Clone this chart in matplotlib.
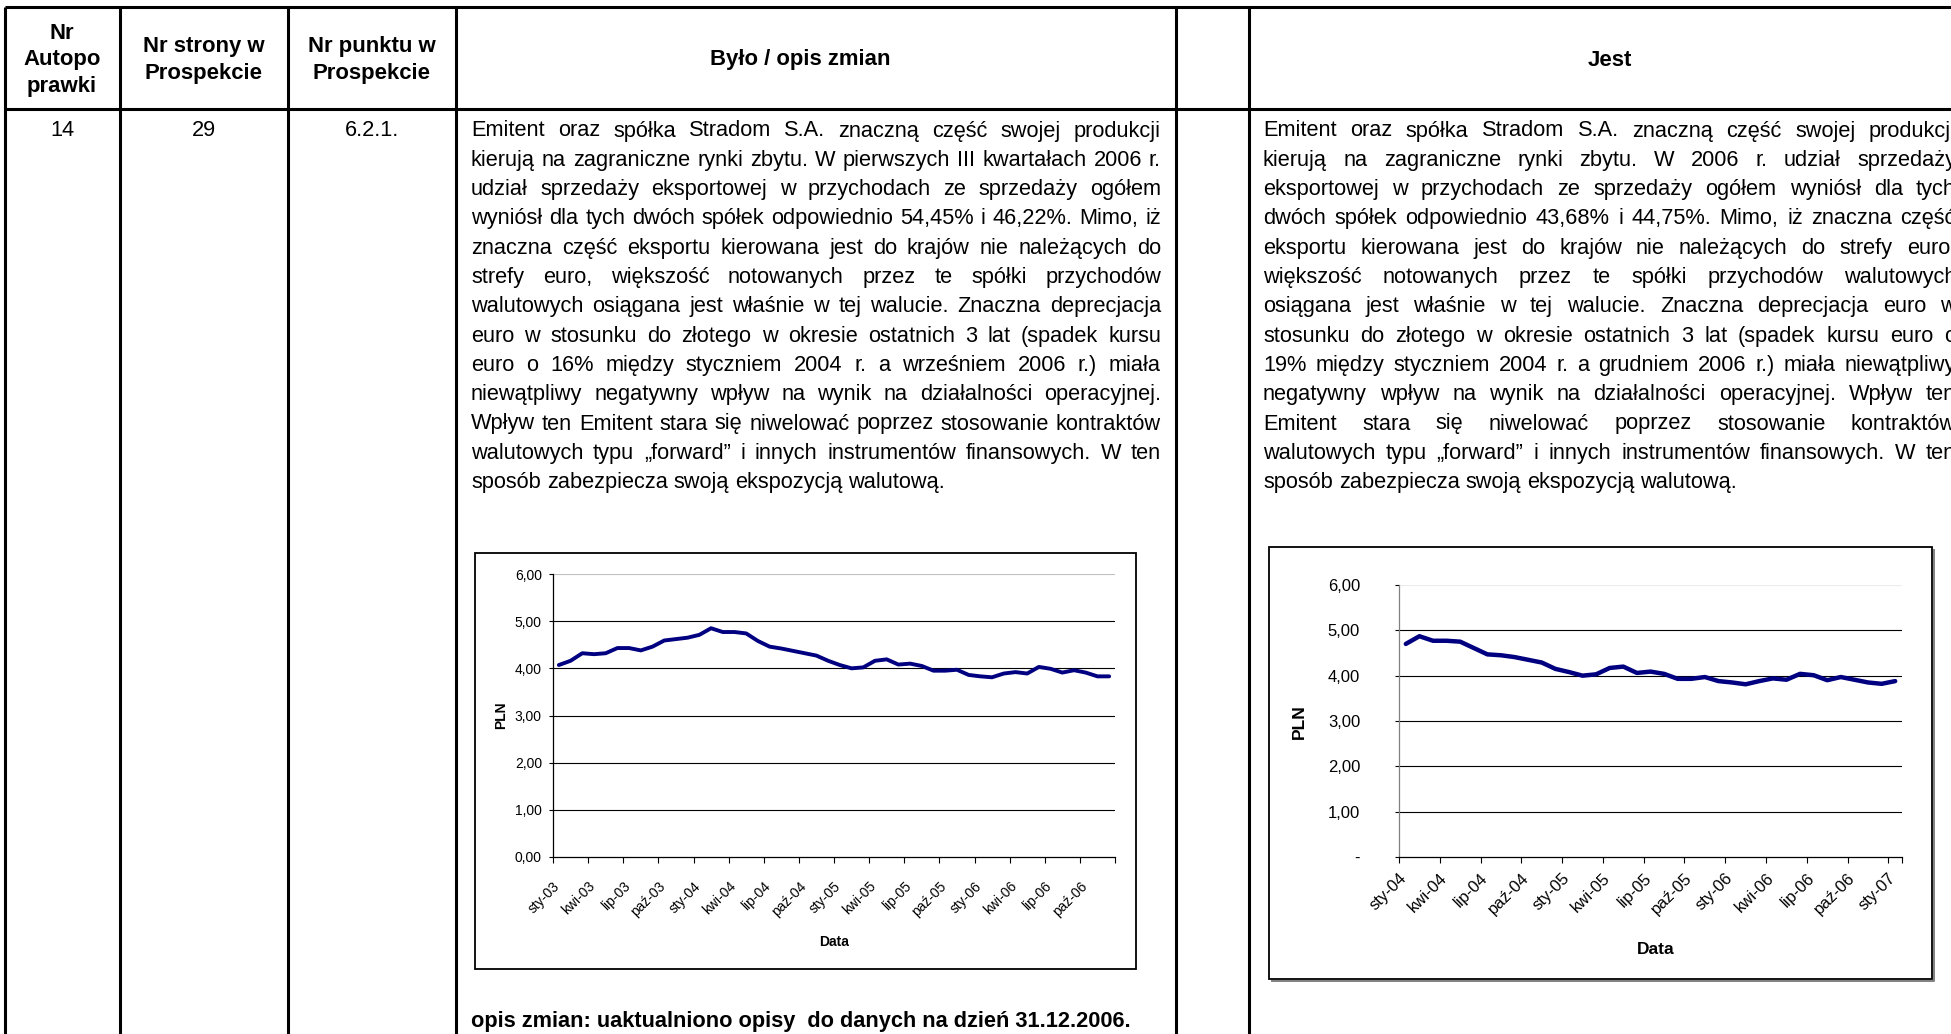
import matplotlib
matplotlib.use('Agg')
import matplotlib.pyplot as plt
from matplotlib.patches import Rectangle

W, H, DPI = 1951, 1034, 100

# EUR/PLN monthly rates
left_ticklabels = ['sty-03', 'kwi-03', 'lip-03', 'paź-03', 'sty-04', 'kwi-04', 'lip-04', 'paź-04',
                   'sty-05', 'kwi-05', 'lip-05', 'paź-05', 'sty-06', 'kwi-06', 'lip-06', 'paź-06']
left_values = [4.07, 4.16, 4.32, 4.30, 4.32, 4.43, 4.43, 4.38, 4.46, 4.59, 4.62, 4.65,
               4.71, 4.85, 4.77, 4.77, 4.74, 4.58, 4.46, 4.42, 4.37, 4.32, 4.27, 4.16,
               4.07, 4.00, 4.02, 4.16, 4.19, 4.08, 4.10, 4.05, 3.95, 3.95, 3.97, 3.86,
               3.83, 3.81, 3.89, 3.92, 3.89, 4.03, 3.99, 3.91, 3.96, 3.91, 3.83, 3.83]
left_yticklabels = ['0,00', '1,00', '2,00', '3,00', '4,00', '5,00', '6,00']

right_ticklabels = ['sty-04', 'kwi-04', 'lip-04', 'paź-04', 'sty-05', 'kwi-05', 'lip-05',
                    'paź-05', 'sty-06', 'kwi-06', 'lip-06', 'paź-06', 'sty-07']
right_values = [4.70, 4.87, 4.77, 4.77, 4.75, 4.61, 4.47, 4.45, 4.41, 4.35, 4.29, 4.15,
                4.08, 4.00, 4.03, 4.17, 4.20, 4.06, 4.09, 4.04, 3.93, 3.93, 3.97, 3.88,
                3.85, 3.81, 3.88, 3.94, 3.91, 4.04, 4.01, 3.90, 3.97, 3.91, 3.85, 3.82, 3.88]
right_yticklabels = ['-', '1,00', '2,00', '3,00', '4,00', '5,00', '6,00']

header_texts = ['Nr\nAutopo\nprawki', 'Nr strony w\nProspekcie', 'Nr punktu w\nProspekcie',
                'Było / opis zmian', 'Jest']
row_texts = ['14', '29', '6.2.1.']

old_lines = [
    'Emitent oraz spółka Stradom S.A. znaczną część swojej produkcji',
    'kierują na zagraniczne rynki zbytu. W pierwszych III kwartałach 2006 r.',
    'udział sprzedaży eksportowej w przychodach ze sprzedaży ogółem',
    'wyniósł dla tych dwóch spółek odpowiednio 54,45% i 46,22%. Mimo, iż',
    'znaczna część eksportu kierowana jest do krajów nie należących do',
    'strefy euro, większość notowanych przez te spółki przychodów',
    'walutowych osiągana jest właśnie w tej walucie. Znaczna deprecjacja',
    'euro w stosunku do złotego w okresie ostatnich 3 lat (spadek kursu',
    'euro o 16% między styczniem 2004 r. a wrześniem 2006 r.) miała',
    'niewątpliwy negatywny wpływ na wynik na działalności operacyjnej.',
    'Wpływ ten Emitent stara się niwelować poprzez stosowanie kontraktów',
    'walutowych typu „forward” i innych instrumentów finansowych. W ten',
    'sposób zabezpiecza swoją ekspozycją walutową.',
]
new_lines = [
    'Emitent oraz spółka Stradom S.A. znaczną część swojej produkcji',
    'kierują na zagraniczne rynki zbytu. W 2006 r. udział sprzedaży',
    'eksportowej w przychodach ze sprzedaży ogółem wyniósł dla tych',
    'dwóch spółek odpowiednio 43,68% i 44,75%. Mimo, iż znaczna część',
    'eksportu kierowana jest do krajów nie należących do strefy euro,',
    'większość notowanych przez te spółki przychodów walutowych',
    'osiągana jest właśnie w tej walucie. Znaczna deprecjacja euro w',
    'stosunku do złotego w okresie ostatnich 3 lat (spadek kursu euro o',
    '19% między styczniem 2004 r. a grudniem 2006 r.) miała niewątpliwy',
    'negatywny wpływ na wynik na działalności operacyjnej. Wpływ ten',
    'Emitent stara się niwelować poprzez stosowanie kontraktów',
    'walutowych typu „forward” i innych instrumentów finansowych. W ten',
    'sposób zabezpiecza swoją ekspozycją walutową.',
]
note_text = 'opis zmian: uaktualniono opisy  do danych na dzień 31.12.2006.'

plt.rcParams['font.family'] = ['Liberation Sans', 'DejaVu Sans']

fig = plt.figure(figsize=(W / DPI, H / DPI), dpi=DPI)
fig.patch.set_facecolor('white')
bg = fig.add_axes([0, 0, 1, 1])
bg.set_xlim(0, W)
bg.set_ylim(H, 0)
bg.axis('off')
renderer = fig.canvas.get_renderer()


def measure(s, size, weight='normal'):
    t = bg.text(0, 0, s, fontsize=size, fontweight=weight)
    w = t.get_window_extent(renderer).width
    t.remove()
    return w


# table grid
col_x = [5, 120, 288, 456, 1176, 1249]
top_y, head_y = 7, 109
bg.hlines([top_y, head_y], col_x[0], W, color='black', lw=2.2)
bg.vlines(col_x, top_y, H, color='black', lw=2.2)

# header
fs_head = 10 * 122 / measure('Nr strony w', 10, 'bold')
head_cx = [62, 204, 372, 800, 1610]
for cx, s in zip(head_cx, header_texts):
    bg.text(cx, 60, s, fontsize=fs_head, fontweight='bold', ha='center', va='center',
            linespacing=30 / (fs_head * DPI / 72))

# body text, justified word by word
fs_body = 10 * 684 / max(measure(l, 10) for l in old_lines + new_lines)
space_w = measure('a a', fs_body) - measure('aa', fs_body)
line0, lstep = 131, 29.3


def justified(x0, width, lines):
    for i, line in enumerate(lines):
        y = line0 + i * lstep
        words = line.split(' ')
        widths = [measure(w, fs_body) for w in words]
        last = i == len(lines) - 1
        gap = space_w if last else (width - sum(widths)) / (len(words) - 1)
        x = x0
        for w, wd in zip(words, widths):
            bg.text(x, y, w, fontsize=fs_body, ha='left', va='center')
            x += wd + gap


justified(471, 690, old_lines)
justified(1263, 693, new_lines)

for cx, s in zip(head_cx[:3], row_texts):
    bg.text(cx, line0, s, fontsize=fs_body, ha='center', va='center')

bg.text(471, 1021, note_text, fontsize=fs_body, fontweight='bold', ha='left', va='center')

# chart frames (right one with a soft shadow)
bg.add_patch(Rectangle((475, 553), 1136 - 475, 969 - 553, fill=False, ec='black', lw=1.3))
bg.plot([1272, 1934, 1934], [981, 981, 550], color='#808080', lw=1.4)
bg.add_patch(Rectangle((1269, 547), 1932 - 1269, 979 - 547, fill=False, ec='black', lw=1.3))


def chart(rect, values, ticklabels, yticklabels, fs, lw, grid6, ycolor, xpad, ypad):
    x0, ytop, x1, ybot = rect
    ax = fig.add_axes([x0 / W, 1 - ybot / H, (x1 - x0) / W, (ybot - ytop) / H])
    ax.patch.set_alpha(0)
    n = len(values)
    for v in range(1, 7):
        ax.axhline(v, color=grid6 if v == 6 else 'black', lw=0.8, zorder=1)
    ax.plot(range(n), values, color='#000080', lw=lw, solid_joinstyle='round',
            solid_capstyle='round', zorder=3)
    ax.set_xlim(-0.5, n - 0.5)
    ax.set_ylim(0, 6)
    ax.set_yticks(range(7))
    ax.set_yticklabels(yticklabels, fontsize=fs)
    ticks = [-0.5 + 3 * i for i in range(len(ticklabels))]
    if ticks[-1] < n - 0.5:
        ticks.append(n - 0.5)
    ax.set_xticks(ticks)
    ax.set_xticklabels(ticklabels + [''] * (len(ticks) - len(ticklabels)), fontsize=fs,
                       rotation=45, ha='right', rotation_mode='anchor')
    ax.tick_params(axis='x', length=4, width=0.8, pad=xpad)
    ax.tick_params(axis='y', length=3, width=0.8, pad=ypad)
    for s in ('top', 'right'):
        ax.spines[s].set_visible(False)
    ax.spines['bottom'].set_linewidth(0.9)
    ax.spines['left'].set_linewidth(0.9)
    ax.spines['left'].set_color(ycolor)
    return ax


chart((553, 574, 1115, 857), left_values, left_ticklabels, left_yticklabels,
      10, 2.8, '#c0c0c0', 'black', 12, 5)
chart((1399, 585, 1902, 857), right_values, right_ticklabels, right_yticklabels,
      12, 3.2, '#ececec', '#808080', 6, 25)

bg.text(501, 715, 'PLN', fontsize=10, fontweight='bold', rotation=90, ha='center', va='center')
bg.text(834, 942, 'Data', fontsize=10, fontweight='bold', ha='center', va='center')
bg.text(1299, 722, 'PLN', fontsize=12.5, fontweight='bold', rotation=90, ha='center', va='center')
bg.text(1656, 950, 'Data', fontsize=12.5, fontweight='bold', ha='center', va='center')

fig.savefig('out.png', dpi=DPI, facecolor='white')
